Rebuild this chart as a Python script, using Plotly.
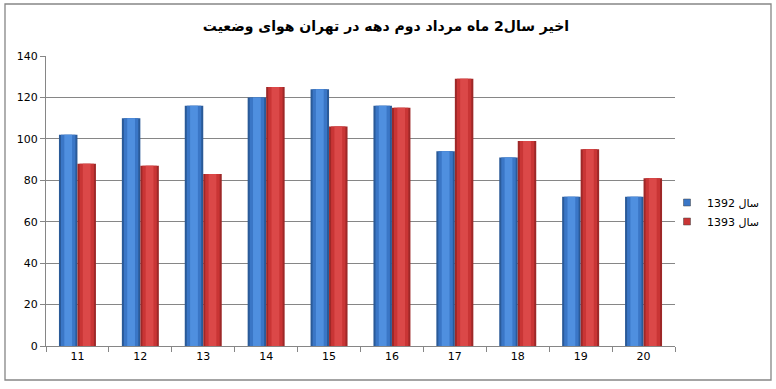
import plotly.graph_objects as go

days = ["11", "12", "13", "14", "15", "16", "17", "18", "19", "20"]
y1392 = [102, 110, 116, 120, 124, 116, 94, 91, 72, 72]
y1393 = [88, 87, 83, 125, 106, 115, 129, 99, 95, 81]
series_names = ["سال 1392", "سال 1393"]
# words in the order they appear left-to-right in the picture
title_words = ["وضعیت", "هوای", "تهران", "در", "دهه", "دوم", "مرداد", "ماه", "2سال", "اخیر"]

def rtl_token(w):
    # move a leading digit to the end so RTL layout keeps it on the left
    if w and w[0].isdigit():
        return w[1:] + w[0]
    return w

title_text = " ".join(rtl_token(w) for w in reversed(title_words))

W, H = 776, 389
L, R, T, B = 46, 101, 56, 43
pw, ph = W - L - R, H - T - B

BW = 0.294  # bar width in category units
styles = [
    dict(off=-BW, layers=[("#2a5a98", 1.0), ("#3a76c6", 0.78), ("#4f8fdf", 0.42)], leg="#3a76c6"),
    dict(off=0.0, layers=[("#9e2828", 1.0), ("#c93535", 0.78), ("#db4848", 0.42)], leg="#c93535"),
]

fig = go.Figure()
for vals, name, st in zip([y1392, y1393], series_names, styles):
    for color, frac in st["layers"]:
        w = BW * frac
        fig.add_trace(go.Bar(x=days, y=vals, name=name, width=w,
                             offset=st["off"] + (BW - w) / 2,
                             marker=dict(color=color, line=dict(width=0)),
                             showlegend=False, hoverinfo="skip" if frac < 1 else None))
for name, st in zip(series_names, styles):
    fig.add_trace(go.Scatter(x=[None], y=[None], mode="markers", name=name,
                             marker=dict(symbol="square", size=7, color=st["leg"],
                                         line=dict(color="#444", width=0.5))))

def px_x(v):
    return (v - L) / pw

def px_y(v):
    return (H - B - v) / ph

fig.add_shape(type="rect", xref="paper", yref="paper",
              x0=px_x(5), x1=px_x(771), y0=px_y(380), y1=px_y(4),
              line=dict(color="#868686", width=1.3), fillcolor="rgba(0,0,0,0)", layer="below")

fig.update_layout(
    width=W, height=H,
    margin=dict(l=L, r=R, t=T, b=B, autoexpand=False),
    paper_bgcolor="white", plot_bgcolor="white",
    barmode="overlay",
    title=dict(text="<b>" + title_text + "</b>", x=px_x(386), xanchor="center", xref="paper",
               y=1 - 26 / H, yanchor="middle",
               font=dict(family="DejaVu Sans, Arial", size=14, color="black")),
    font=dict(family="DejaVu Sans", size=11, color="black"),
    legend=dict(x=px_x(667), y=px_y(212), xanchor="left", yanchor="middle",
                font=dict(size=11), tracegroupgap=4, itemwidth=30,
                bgcolor="rgba(0,0,0,0)"),
    showlegend=True,
)
fig.update_xaxes(type="category", showline=True, linecolor="#868686", linewidth=1,
                 ticks="outside", tickson="boundaries", ticklen=5, tickcolor="#868686",
                 showgrid=False, tickfont=dict(size=11))
fig.update_yaxes(range=[0, 140], dtick=20, showline=True, linecolor="#868686", linewidth=1,
                 ticks="outside", ticklen=5, tickcolor="#868686",
                 showgrid=True, gridcolor="#868686", gridwidth=1, zeroline=False,
                 tickfont=dict(size=11))

fig.write_html("out.html")
